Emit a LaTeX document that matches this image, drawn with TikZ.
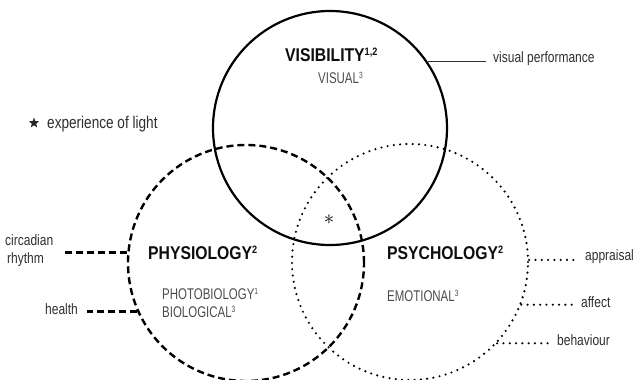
\documentclass[tikz,border=0pt]{standalone}
\usepackage{fontspec}
\setmainfont{Liberation Sans}
\newfontfamily\lblfont{Liberation Sans}[FakeStretch=0.8]
\newfontfamily\ttlfont{Liberation Sans}[FakeStretch=0.85]
\newfontfamily\gryfont{Liberation Sans}[FakeStretch=0.74]
\usetikzlibrary{shapes.geometric}
\newcommand\supr[1]{\raisebox{0.3em}{\scalebox{0.58}{#1}}}
\tikzset{
  ttl/.style={font=\ttlfont\bfseries\fontsize{18.5}{20}\selectfont, text=black!95, inner sep=0, anchor=base west},
  gry/.style={font=\gryfont\fontsize{15.5}{17}\selectfont, text=black!70, inner sep=0, anchor=base west},
  lbl/.style={font=\lblfont\fontsize{15}{18}\selectfont, text=black!82, inner sep=0},
  solidring/.style={circle, draw=black, line width=2.2pt, inner sep=0, minimum size=234pt},
  dashring/.style={circle, draw=black, line width=2.4pt, dash pattern=on 7pt off 4pt, inner sep=0, minimum size=236pt},
  dotring/.style={circle, draw=black, line width=2.4pt, line cap=round, dash pattern=on 0pt off 6.3pt, inner sep=0, minimum size=236pt},
  solidcon/.style={draw=black!80, line width=1pt},
  dashcon/.style={draw=black, line width=2.4pt, dash pattern=on 7pt off 4pt},
  dotcon/.style={draw=black, line width=2.4pt, line cap=round, dash pattern=on 0pt off 6.3pt},
}
\begin{document}
\begin{tikzpicture}[x=1pt,y=-1pt]
\useasboundingbox (0,0) rectangle (633,380);
% rings
\node[solidring] (S) at (330,128) {};
\node[dashring] (D) at (246,263) {};
\node[dotring] (P) at (410,262) {};
% titles
\node[ttl] (vis) at (285,61) {VISIBILITY\supr{1,2}};
\node[gry] (visual) at (318,83) {VISUAL\supr{3}};
\node[ttl] (phys) at (148,259) {PHYSIOLOGY\supr{2}};
\node[gry] (photo) at (162,299) {PHOTOBIOLOGY\supr{1}};
\node[gry] (bio) at (162,317) {BIOLOGICAL\supr{3}};
\node[ttl] (psy) at (387,259) {PSYCHOLOGY\supr{2}};
\node[gry] (emo) at (387,301) {EMOTIONAL\supr{3}};
% legend
\node[star, star points=5, star point ratio=2.4, fill=black!85, minimum size=11pt, inner sep=0] (legstar) at (34,123) {};
\node[font=\lblfont\fontsize{17}{20}\selectfont, text=black!82, inner sep=0, anchor=base west] (legtxt) at (47,128) {experience of light};
\node[font=\fontsize{22}{24}\selectfont, inner sep=0, anchor=center] (ast) at (329,220) {$\ast$};
% labels
\node[lbl, anchor=base west] (vp) at (493,62) {visual performance};
\node[lbl, anchor=mid west] (ap) at (585,258) {appraisal};
\node[lbl, anchor=mid west] (af) at (581,305) {affect};
\node[lbl, anchor=mid west] (bh) at (557,343) {behaviour};
\node[lbl, anchor=base west] (cr1) at (5,245) {circadian};
\node[lbl, anchor=base west] (cr2) at (7,263) {rhythm};
\node[lbl, anchor=mid west] (hl) at (45,312) {health};
% connectors
\draw[solidcon, shorten >=7pt] (S.34.3) -- (S.34.3 -| vp.west);
\draw[dotcon, shorten >=8pt] (P.1.9) -- (P.1.9 -| ap.west);
\draw[dotcon, shorten >=8pt] (P.-21.4) -- (P.-21.4 -| af.west);
\draw[dotcon, shorten >=7pt] (P.-43.3) -- (P.-43.3 -| bh.west);
\draw[dashcon, shorten >=9pt] (D.175.1) -- (D.175.1 -| cr1.east);
\draw[dashcon, shorten >=9pt] (D.204.5) -- (D.204.5 -| hl.east);
\end{tikzpicture}
\end{document}
